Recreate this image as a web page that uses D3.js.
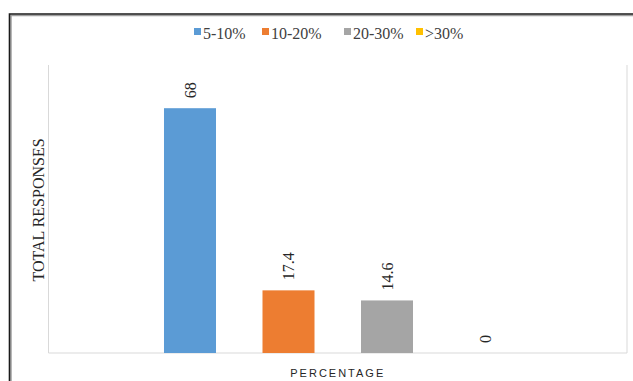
<!DOCTYPE html>
<html>
<head>
<meta charset="utf-8">
<script src="https://cdn.jsdelivr.net/npm/d3@7"></script>
<style>
  body { margin: 0; background: #fff; }
  svg { display: block; }
</style>
</head>
<body>
<script>
// data
const categories = ["PERCENTAGE"];
const seriesNames = ["5-10%", "10-20%", "20-30%", ">30%"];
const seriesValues = [68, 17.4, 14.6, 0];
const seriesColors = ["#5b9bd5", "#ed7d31", "#a5a5a5", "#ffc000"];

const W = 633, H = 381;
const plot = { left: 48.5, right: 627, top: 65, bottom: 353 };

const svg = d3.select("body").append("svg")
    .attr("width", W)
    .attr("height", H);

// outer frame (dark line with a grey shadow, runs off the right and bottom)
svg.append("path")
    .attr("d", "M11,400 V15.5 H660")
    .attr("fill", "none")
    .attr("stroke", "#a0a0a0")
    .attr("stroke-width", 1.5);
svg.append("path")
    .attr("d", "M9.5,400 V14 H660")
    .attr("fill", "none")
    .attr("stroke", "#1a1a1a")
    .attr("stroke-width", 1.6);

// scales
const x0 = d3.scaleBand()
    .domain(categories)
    .range([plot.left, plot.right]);

const x1 = d3.scaleBand()
    .domain(seriesNames)
    .range([0, x0.bandwidth()])
    .paddingInner(0.472)
    .paddingOuter(1.1725);

const y = d3.scaleLinear()
    .domain([0, 80])
    .range([plot.bottom, plot.top]);

const color = d3.scaleOrdinal().domain(seriesNames).range(seriesColors);

// plot area border: left, right, bottom only
svg.append("path")
    .attr("d", `M${plot.left},${plot.top} V${plot.bottom} H${plot.right} V${plot.top}`)
    .attr("fill", "none")
    .attr("stroke", "#d9d9d9")
    .attr("stroke-width", 1);

const rows = seriesNames.map((s, i) => ({ cat: categories[0], series: s, value: seriesValues[i] }));

const g = svg.append("g");

g.selectAll(".bar")
    .data(rows)
  .enter().append("rect")
    .attr("class", "bar")
    .attr("x", d => x0(d.cat) + x1(d.series))
    .attr("y", d => y(d.value))
    .attr("width", x1.bandwidth())
    .attr("height", d => y(0) - y(d.value))
    .attr("fill", d => color(d.series));

// rotated value labels
g.selectAll(".lbl")
    .data(rows)
  .enter().append("text")
    .attr("class", "lbl")
    .attr("transform", d => {
      const cx = x0(d.cat) + x1(d.series) + x1.bandwidth() / 2;
      return `translate(${cx},${y(d.value) - 10}) rotate(-90)`;
    })
    .attr("dy", "0.35em")
    .attr("text-anchor", "start")
    .attr("font-family", "'Liberation Serif', 'Times New Roman', serif")
    .attr("font-size", 16)
    .attr("fill", "#262626")
    .text(d => d.value);

// legend
const legendX = [194, 262, 344, 416];
const legend = svg.append("g");
seriesNames.forEach((s, i) => {
  const lg = legend.append("g").attr("transform", `translate(${legendX[i]},28)`);
  lg.append("rect")
      .attr("width", 7)
      .attr("height", 7)
      .attr("fill", color(s));
  lg.append("text")
      .attr("x", 9)
      .attr("y", 10.5)
      .attr("font-family", "'Liberation Serif', 'Times New Roman', serif")
      .attr("font-size", 16)
      .attr("fill", "#404040")
      .text(s);
});

// axis titles
svg.append("text")
    .attr("transform", `translate(${(plot.left + plot.right) / 2},377)`)
    .attr("text-anchor", "middle")
    .attr("font-family", "'Liberation Sans', Arial, sans-serif")
    .attr("font-size", 11)
    .attr("letter-spacing", "2px")
    .attr("fill", "#262626")
    .text(categories[0]);

svg.append("text")
    .attr("transform", `translate(38.5,210) rotate(-90)`)
    .attr("dy", "0.35em")
    .attr("text-anchor", "middle")
    .attr("font-family", "'Liberation Serif', 'Times New Roman', serif")
    .attr("font-size", 16)
    .attr("fill", "#262626")
    .text("TOTAL RESPONSES");
</script>
</body>
</html>
